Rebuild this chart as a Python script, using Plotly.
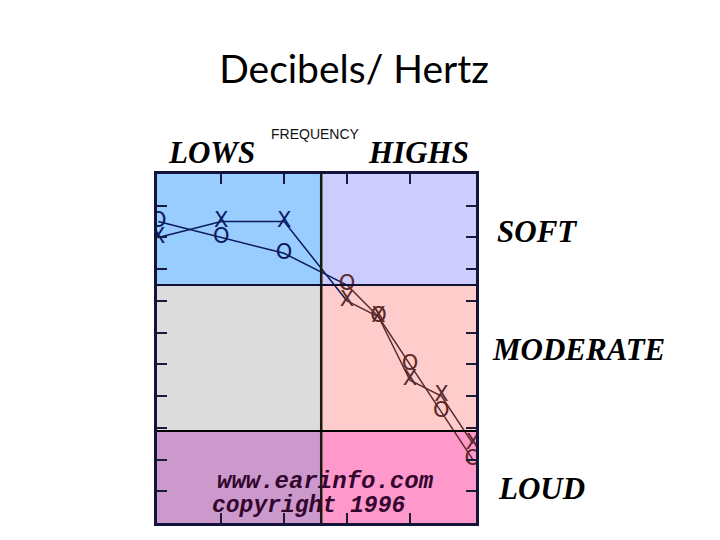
import plotly.graph_objects as go

# Frequency positions (octave index: 250,500,1000,2000,3000,4000,6000,8000 Hz)
freq_labels = ["250", "500", "1000", "2000", "3000", "4000", "6000", "8000"]
freq_pos = [0, 1, 2, 3, 3.5, 4, 4.5, 5]
# Hearing levels (dB)
right_ear_O = [5, 10, 15, 25, 35, 50, 65, 80]
left_ear_X = [10, 5, 5, 30, 35, 55, 60, 75]

# Region boundaries
x_min, x_max = -0.02, 5.05
y_top, y_bottom = -10, 100
x_split = 2.59      # ~1500 Hz
soft_limit = 25
loud_limit = 71

navy = "#0b1a5e"
brown = "#5a2a2a"

fig = go.Figure()

regions = [
    (x_min, x_split, y_top, soft_limit, "#99ccff"),
    (x_split, x_max, y_top, soft_limit, "#ccccff"),
    (x_min, x_split, soft_limit, loud_limit, "#dcdcdc"),
    (x_split, x_max, soft_limit, loud_limit, "#ffcccc"),
    (x_min, x_split, loud_limit, y_bottom, "#cc99cc"),
    (x_split, x_max, loud_limit, y_bottom, "#ff99cc"),
]
for x0, x1, y0, y1, c in regions:
    fig.add_shape(type="rect", x0=x0, x1=x1, y0=y0, y1=y1, fillcolor=c,
                  line=dict(width=0), layer="below")

fig.add_shape(type="line", x0=x_split, x1=x_split, y0=y_top, y1=y_bottom,
              line=dict(color="#1a1a10", width=2.5))
fig.add_shape(type="line", x0=x_min, x1=x_max, y0=soft_limit, y1=soft_limit,
              line=dict(color="#101030", width=2))
fig.add_shape(type="line", x0=x_min, x1=x_max, y0=loud_limit, y1=loud_limit,
              line=dict(color="#000000", width=2))

split = 3
for vals, sym in [(right_ear_O, "O"), (left_ear_X, "X")]:
    fig.add_trace(go.Scatter(
        x=freq_pos[:split + 1], y=vals[:split + 1], mode="lines",
        line=dict(color=navy, width=1.5), showlegend=False, hoverinfo="skip"))
    fig.add_trace(go.Scatter(
        x=freq_pos[split:], y=vals[split:], mode="lines",
        line=dict(color=brown, width=1.5), showlegend=False, hoverinfo="skip"))
    fig.add_trace(go.Scatter(
        x=freq_pos, y=vals, mode="text", text=[sym] * len(vals),
        textposition="middle center",
        textfont=dict(family="DejaVu Sans", size=21,
                      color=[navy] * split + [brown] * (len(vals) - split)),
        showlegend=False, hovertext=freq_labels))

# page-pixel helpers (plot area occupies x 156..475, y 173..522 on the page)
def px(xp):
    return (xp - 156) / (475 - 156)

def py(yp):
    return (522 - yp) / (522 - 173)

serif = dict(family="Liberation Serif", size=31, color="black")
labels = [
    ("<b><i>LOWS</i></b>", 210, 152),
    ("<b><i>HIGHS</i></b>", 417, 152),
    ("<b><i>SOFT</i></b>", 536, 230),
    ("<b><i>MODERATE</i></b>", 577, 348),
    ("<b><i>LOUD</i></b>", 540, 487),
]
for t, x, y in labels:
    fig.add_annotation(text=t, x=px(x), y=py(y), xref="paper", yref="paper",
                       showarrow=False, font=serif, xanchor="center", yanchor="middle")

fig.add_annotation(text="FREQUENCY", x=px(314), y=py(133), xref="paper", yref="paper",
                   showarrow=False, font=dict(family="Liberation Sans", size=14, color="#111"),
                   xanchor="center", yanchor="middle")

wm = dict(family="Liberation Mono", size=24, color="#33062e")
fig.add_annotation(text="<b><i>www.earinfo.com</i></b>", x=px(324), y=py(480),
                   xref="paper", yref="paper", showarrow=False, font=wm,
                   xanchor="center", yanchor="middle")
fig.add_annotation(text="<b><i>copyright 1996</i></b>", x=px(307), y=py(505),
                   xref="paper", yref="paper", showarrow=False,
                   font=dict(family="Liberation Mono", size=23, color="#33062e"),
                   xanchor="center", yanchor="middle")

off = 7  # page offset of the figure inside the browser window
fig.update_layout(
    width=720, height=540,
    margin=dict(l=156 - off, r=720 - 475 + off, t=173 - off, b=540 - 522 + off),
    paper_bgcolor="white", plot_bgcolor="white",
    title=dict(text="Decibels/ Hertz", x=(353 - off) / 720, xref="container",
               xanchor="center",
               y=1 - (68 - off) / 540, yref="container", yanchor="middle",
               font=dict(family="Lato", size=39, color="black")),
    xaxis=dict(range=[x_min, x_max], tickvals=[1, 2, 3, 4], showticklabels=False,
               ticks="inside", ticklen=10, tickwidth=2, tickcolor="#1a1a3a",
               showgrid=False, zeroline=False, showline=True, linewidth=3,
               linecolor="#14143a", mirror="ticks"),
    yaxis=dict(range=[y_bottom, y_top], tickvals=list(range(0, 100, 10)),
               showticklabels=False, ticks="inside", ticklen=10, tickwidth=2,
               tickcolor="#1a1a3a", showgrid=False, zeroline=False, showline=True,
               linewidth=3, linecolor="#14143a", mirror="ticks"),
)

fig.write_html("out.html")
